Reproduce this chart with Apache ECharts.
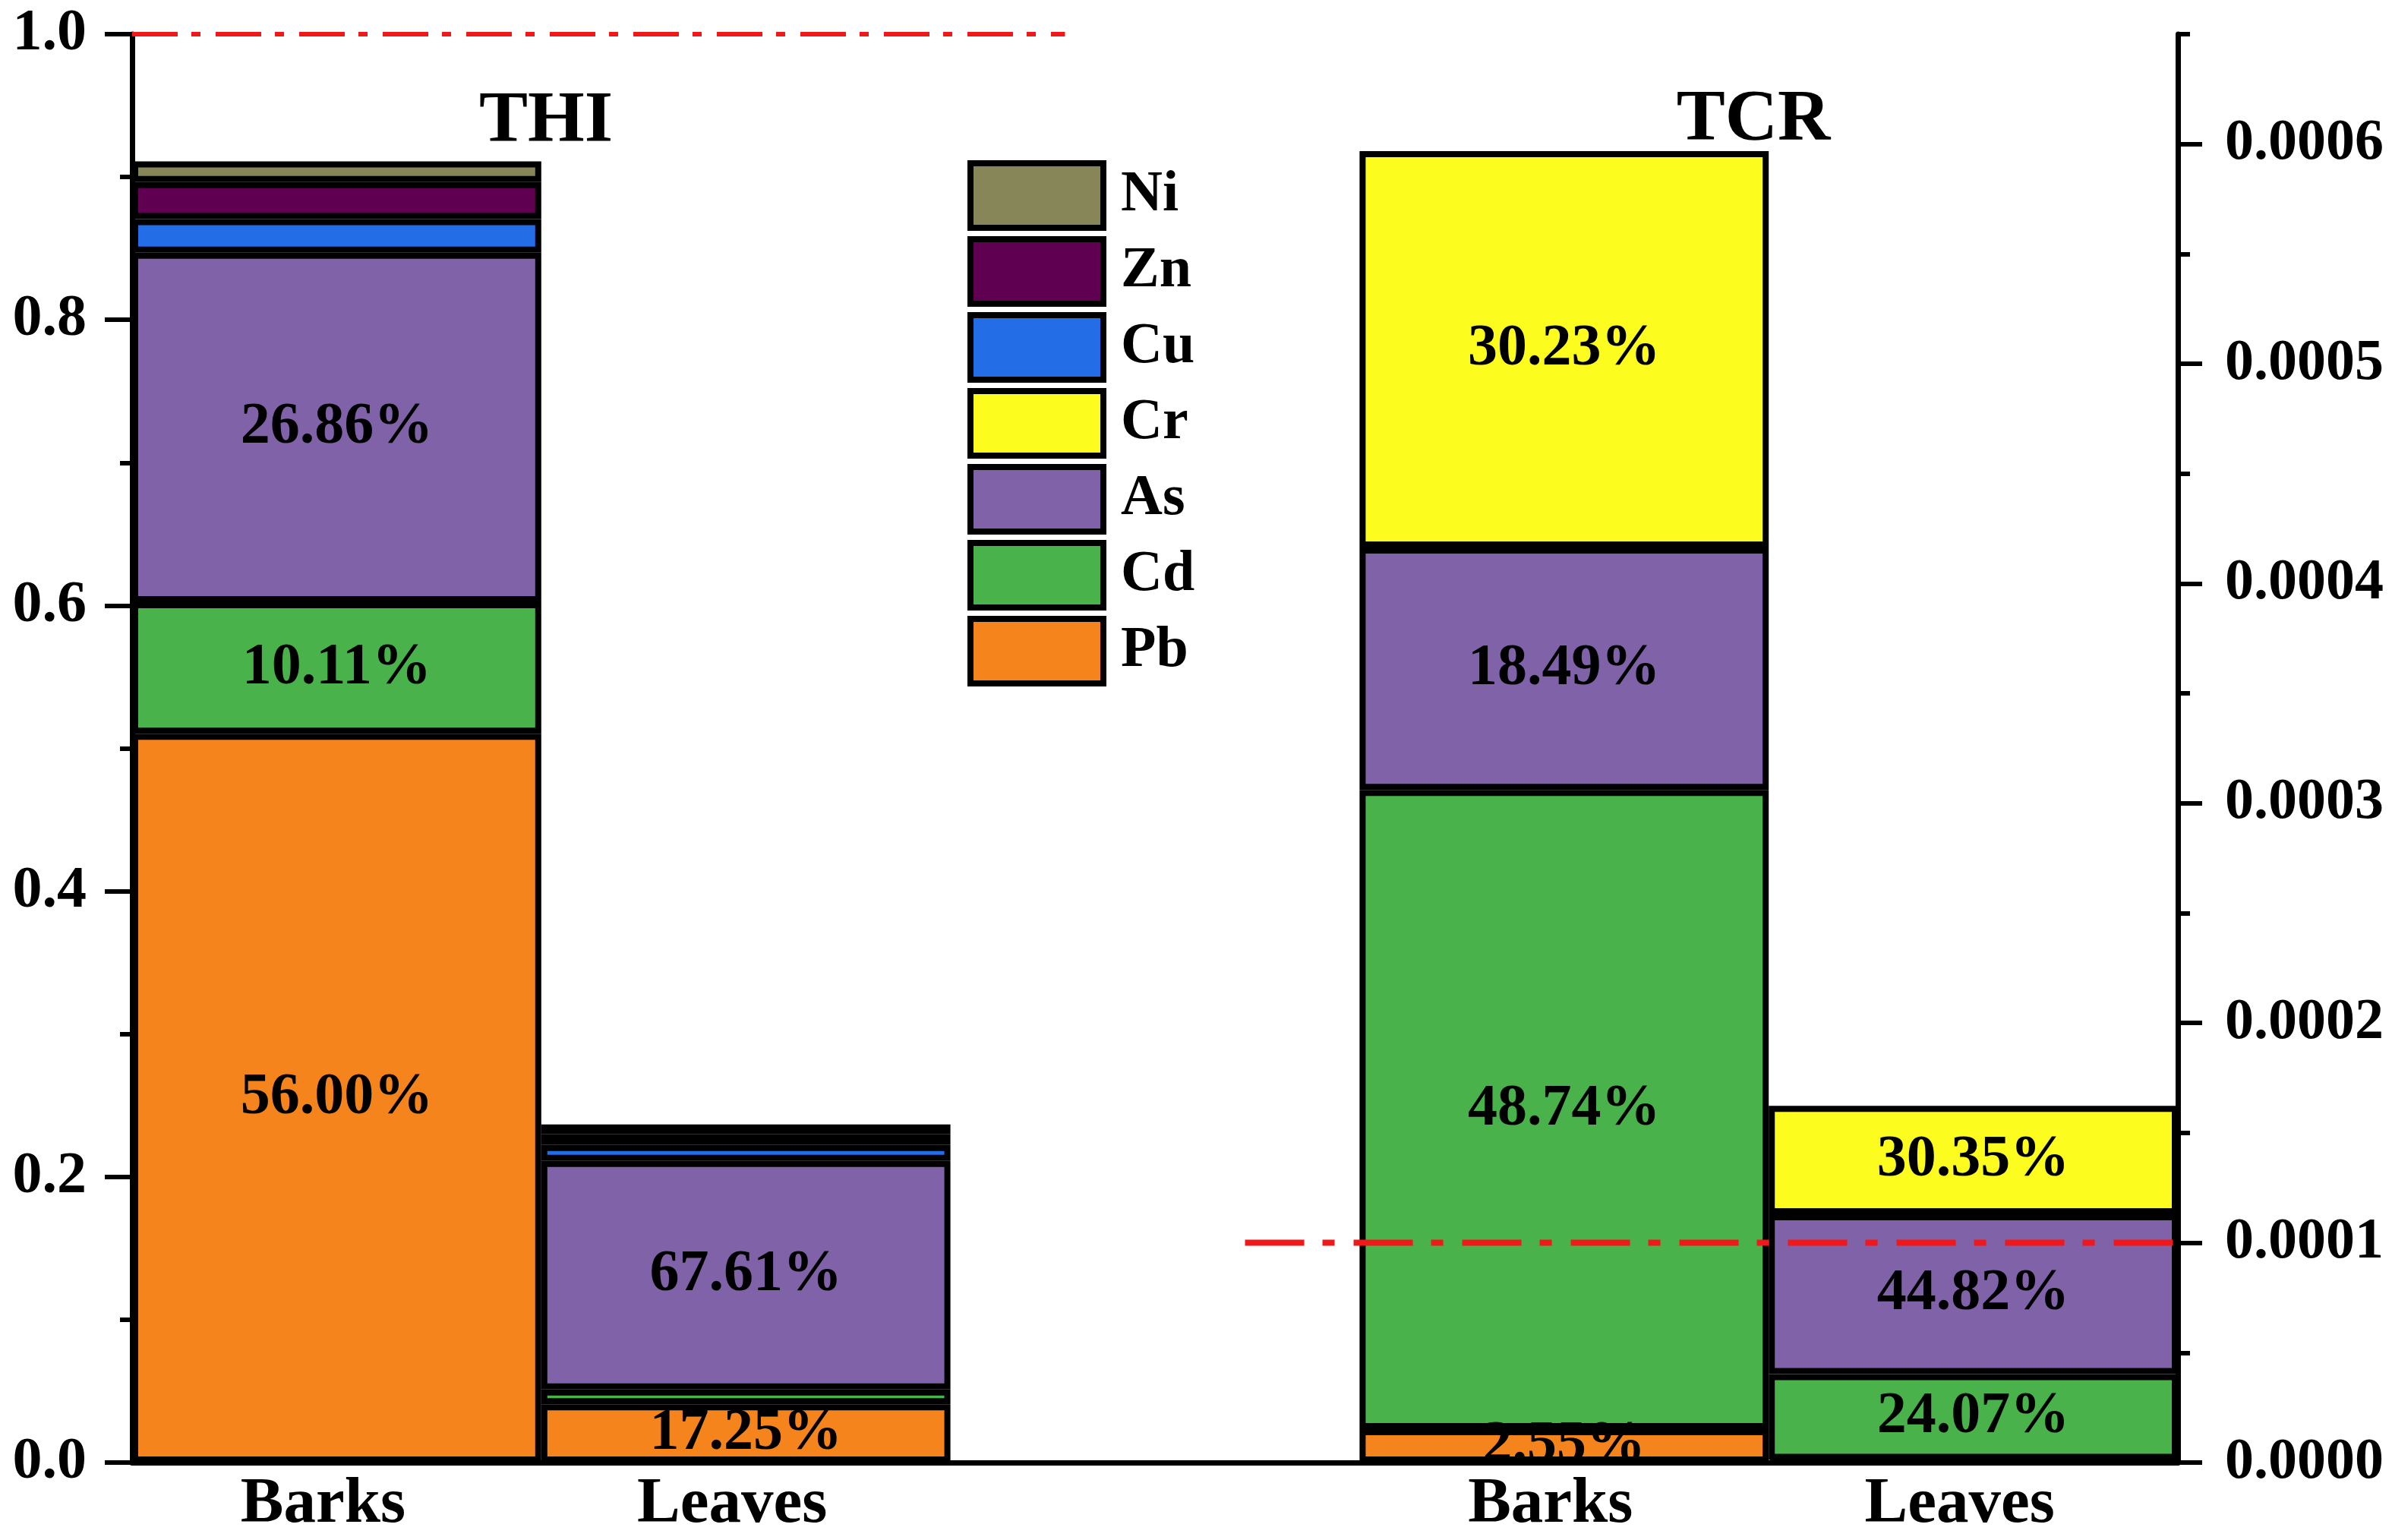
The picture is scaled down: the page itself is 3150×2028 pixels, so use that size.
<!DOCTYPE html>
<html>
<head>
<meta charset="utf-8">
<script src="https://cdn.jsdelivr.net/npm/echarts@6/dist/echarts.min.js"></script>
<style>
  html, body { margin: 0; padding: 0; background: #fff; }
  #chart { width: 3150px; height: 2028px; }
</style>
</head>
<body>
<div id="chart"></div>
<script>
var categories = ['Barks', 'Leaves', '', 'Barks', 'Leaves']
var legendOrder = ['Ni', 'Zn', 'Cu', 'Cr', 'As', 'Cd', 'Pb']

// THI (left axis), [Barks, Leaves]
var thiPb = [0.5102, 0.0408]
var thiCd = [0.0921, 0.0104]
var thiAs = [0.2447, 0.1600]
var thiCu = [0.0235, 0.0111]
var thiZn = [0.0260, 0.0075]
var thiNi = [0.0145, 0.0069]
var thiPbLabel = ['56.00%', '17.25%']
var thiCdLabel = ['10.11%', '']
var thiAsLabel = ['26.86%', '67.61%']

// TCR (right axis), [Barks, Leaves]
var tcrPb = [0.0000152, 0.0000012]
var tcrCd = [0.0002909, 0.0000391]
var tcrAs = [0.0001103, 0.0000727]
var tcrCr = [0.0001804, 0.0000493]
var tcrPbLabel = ['2.55%', '']
var tcrCdLabel = ['48.74%', '24.07%']
var tcrAsLabel = ['18.49%', '44.82%']
var tcrCrLabel = ['30.23%', '30.35%']

// reference lines
var thiLimitX = [0, 2.28]
var thiLimit = 1.0
var tcrLimitX = [2.72, 5]
var tcrLimit = 0.0001

var rightTicks = [0, 0.0001, 0.0002, 0.0003, 0.0004, 0.0005, 0.0006]
var rightMinorTicks = [0.00005, 0.00015, 0.00025, 0.00035, 0.00045, 0.00055, 0.00065]

var colors = {
  Pb: '#F6841C',
  Cd: '#49B24B',
  As: '#8062A9',
  Cr: '#FCFC1E',
  Cu: '#236DE7',
  Zn: '#5F0050',
  Ni: '#868659'
}

var FONT = 'Liberation Serif'

function barSeries(name, stack, axis, values, labels, slots) {
  var data = ['-', '-', '-', '-', '-']
  data[slots[0]] = values[0]
  data[slots[1]] = values[1]
  return {
    name: name,
    type: 'bar',
    stack: stack,
    yAxisIndex: axis,
    barCategoryGap: '0%',
    barGap: '-100%',
    data: data,
    itemStyle: { color: colors[name], borderColor: '#000', borderWidth: 8 },
    label: {
      show: !!labels,
      position: 'inside',
      color: '#000',
      fontFamily: FONT,
      fontWeight: 'bold',
      fontSize: 78,
      formatter: function (p) {
        if (!labels) return ''
        var i = p.dataIndex === slots[0] ? 0 : 1
        return labels[i]
      }
    },
    emphasis: { disabled: true }
  }
}

function limitSeries(xs, y, axis, width, dash) {
  return {
    type: 'line',
    xAxisIndex: 1,
    yAxisIndex: axis,
    symbol: 'none',
    silent: true,
    clip: false,
    z: 5,
    data: [[xs[0], y], [xs[1], y]],
    lineStyle: { color: '#F01818', width: width, type: dash, cap: 'butt' }
  }
}

var chart = echarts.init(document.getElementById('chart'))

var option = {
  backgroundColor: '#fff',
  animation: false,
  grid: { left: 174, right: 282, top: 45, bottom: 102, containLabel: false },
  legend: {
    data: legendOrder,
    orient: 'vertical',
    left: 1274,
    top: 211,
    padding: 0,
    itemWidth: 175,
    itemHeight: 85,
    itemGap: 7,
    icon: 'rect',
    itemStyle: { borderColor: '#000', borderWidth: 8 },
    textStyle: {
      fontFamily: FONT, fontWeight: 'bold', fontSize: 76, color: '#000',
      padding: [0, 0, 0, 18]
    },
    selectedMode: false
  },
  graphic: [
    {
      type: 'text', x: 719, y: 161,
      style: { text: 'THI', font: 'bold 96px "Liberation Serif"', fill: '#000', textAlign: 'center', textVerticalAlign: 'middle' }
    },
    {
      type: 'text', x: 2309, y: 159,
      style: { text: 'TCR', font: 'bold 96px "Liberation Serif"', fill: '#000', textAlign: 'center', textVerticalAlign: 'middle' }
    }
  ],
  xAxis: [
    {
      type: 'category',
      data: categories,
      axisLine: { lineStyle: { color: '#000', width: 7 } },
      axisTick: { show: false },
      axisLabel: {
        color: '#000', fontFamily: FONT, fontWeight: 'bold', fontSize: 85, margin: 14,
        padding: [0, 36, 0, 0]
      }
    },
    { type: 'value', min: 0, max: 5, show: false }
  ],
  yAxis: [
    {
      type: 'value',
      position: 'left',
      min: 0, max: 1.0, interval: 0.2,
      axisLine: { show: true, lineStyle: { color: '#000', width: 7 } },
      axisTick: { show: true, length: 36, lineStyle: { color: '#000', width: 6 } },
      minorTick: { show: true, splitNumber: 2, length: 16, lineStyle: { color: '#000', width: 6 } },
      splitLine: { show: false },
      axisLabel: {
        color: '#000', fontFamily: FONT, fontWeight: 'bold', fontSize: 78, margin: 60,
        formatter: function (v) { return v.toFixed(1) }
      }
    },
    {
      type: 'value',
      position: 'right',
      min: 0, max: 0.00065, interval: 0.0001,
      axisLine: { show: true, lineStyle: { color: '#000', width: 7 } },
      axisTick: { show: true, length: 32, customValues: rightTicks, lineStyle: { color: '#000', width: 6 } },
      splitLine: { show: false },
      axisLabel: {
        color: '#000', fontFamily: FONT, fontWeight: 'bold', fontSize: 76, margin: 62,
        customValues: rightTicks,
        formatter: function (v) { return v.toFixed(4) }
      }
    },
    {
      type: 'value',
      position: 'right',
      min: 0, max: 0.00065,
      axisLine: { show: false },
      axisTick: { show: true, length: 16, customValues: rightMinorTicks, lineStyle: { color: '#000', width: 6 } },
      axisLabel: { show: false },
      splitLine: { show: false }
    }
  ],
  series: [
    barSeries('Pb', 'thi', 0, thiPb, thiPbLabel, [0, 1]),
    barSeries('Cd', 'thi', 0, thiCd, thiCdLabel, [0, 1]),
    barSeries('As', 'thi', 0, thiAs, thiAsLabel, [0, 1]),
    barSeries('Cu', 'thi', 0, thiCu, null, [0, 1]),
    barSeries('Zn', 'thi', 0, thiZn, null, [0, 1]),
    barSeries('Ni', 'thi', 0, thiNi, null, [0, 1]),
    barSeries('Pb', 'tcr', 1, tcrPb, tcrPbLabel, [3, 4]),
    barSeries('Cd', 'tcr', 1, tcrCd, tcrCdLabel, [3, 4]),
    barSeries('As', 'tcr', 1, tcrAs, tcrAsLabel, [3, 4]),
    barSeries('Cr', 'tcr', 1, tcrCr, tcrCrLabel, [3, 4]),
    limitSeries(thiLimitX, thiLimit, 0, 6, [60, 18, 12, 20]),
    limitSeries(tcrLimitX, tcrLimit, 1, 8, [78, 24, 16, 25])
  ]
}

chart.setOption(option)
</script>
</body>
</html>
